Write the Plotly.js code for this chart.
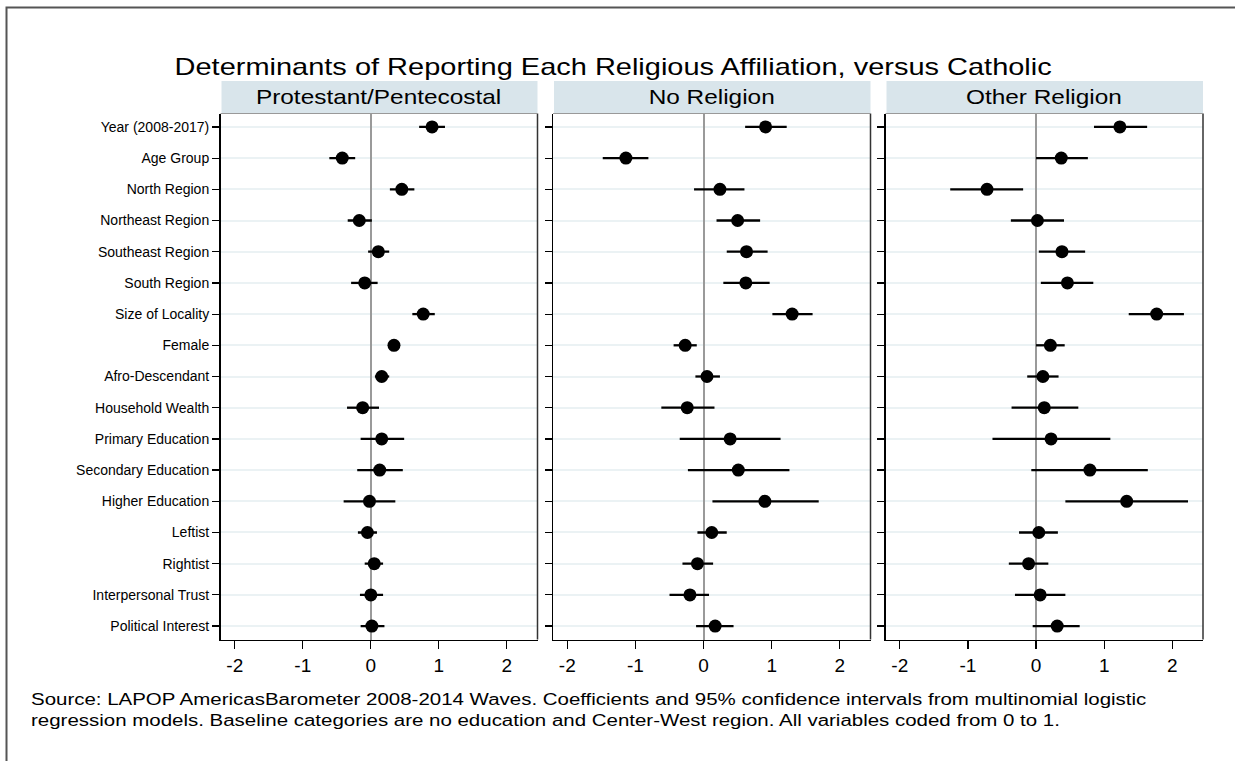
<!DOCTYPE html>
<html>
<head>
<meta charset="utf-8">
<script src="https://cdn.plot.ly/plotly-3.0.1.min.js"></script>
<style>html,body{margin:0;padding:0;background:#fff;}#chart{width:1235px;height:761px;}</style>
</head>
<body>
<div id="chart"></div>
<script>
// ---- data ----
var variables = ["Year (2008-2017)", "Age Group", "North Region", "Northeast Region", "Southeast Region",
  "South Region", "Size of Locality", "Female", "Afro-Descendant", "Household Wealth",
  "Primary Education", "Secondary Education", "Higher Education", "Leftist", "Rightist",
  "Interpersonal Trust", "Political Interest"];

var panelTitles = ["Protestant/Pentecostal", "No Religion", "Other Religion"];

var protestantCoef = [0.90, -0.42, 0.455, -0.17, 0.11, -0.09, 0.77, 0.34, 0.16, -0.12, 0.16, 0.13, -0.02, -0.05, 0.05, 0.00, 0.015];
var protestantLow  = [0.71, -0.61, 0.28, -0.34, -0.04, -0.29, 0.61, 0.26, 0.06, -0.35, -0.15, -0.20, -0.40, -0.19, -0.09, -0.16, -0.15];
var protestantHigh = [1.09, -0.23, 0.64, 0.015, 0.27, 0.10, 0.94, 0.42, 0.27, 0.12, 0.49, 0.47, 0.36, 0.09, 0.18, 0.18, 0.20];

var noReligionCoef = [0.91, -1.14, 0.24, 0.50, 0.63, 0.62, 1.30, -0.27, 0.05, -0.24, 0.39, 0.51, 0.90, 0.12, -0.09, -0.20, 0.17];
var noReligionLow  = [0.61, -1.48, -0.14, 0.19, 0.34, 0.29, 1.01, -0.44, -0.12, -0.62, -0.35, -0.23, 0.13, -0.09, -0.31, -0.50, -0.11];
var noReligionHigh = [1.22, -0.81, 0.60, 0.83, 0.94, 0.97, 1.60, -0.10, 0.24, 0.16, 1.13, 1.26, 1.69, 0.34, 0.14, 0.08, 0.44];

var otherCoef = [1.23, 0.37, -0.72, 0.02, 0.38, 0.46, 1.77, 0.21, 0.10, 0.12, 0.22, 0.79, 1.33, 0.04, -0.11, 0.06, 0.31];
var otherLow  = [0.85, 0.00, -1.26, -0.37, 0.04, 0.07, 1.36, 0.00, -0.13, -0.36, -0.64, -0.07, 0.43, -0.25, -0.40, -0.31, -0.05];
var otherHigh = [1.63, 0.76, -0.19, 0.41, 0.72, 0.84, 2.17, 0.42, 0.33, 0.62, 1.09, 1.64, 2.23, 0.32, 0.18, 0.43, 0.64];

var xTickVals = [-2, -1, 0, 1, 2];
var xTickText = ["-2", "-1", "0", "1", "2"];

var chartTitle = "Determinants of Reporting Each Religious Affiliation, versus Catholic";
var noteText = "Source: LAPOP AmericasBarometer 2008-2014 Waves. Coefficients and 95% confidence intervals from multinomial logistic<br>regression models. Baseline categories are no education and Center-West region. All variables coded from 0 to 1.";

// ---- build ----
var W = 1235, H = 761;
function px(x) { return x / W; }
function py(y) { return 1 - y / H; }

var FONT = "Liberation Sans, Arial, Helvetica, sans-serif";
var rowPos = variables.map(function (_, i) { return i + 1; });

var panels = [
  {coef: protestantCoef, lo: protestantLow, hi: protestantHigh, x0: 220.5, x1: 537.5},
  {coef: noReligionCoef, lo: noReligionLow, hi: noReligionHigh, x0: 553, x1: 870.5},
  {coef: otherCoef, lo: otherLow, hi: otherHigh, x0: 885.5, x1: 1203}
];

var plotTop = 113.5, plotBottom = 639.5, stripTop = 81;

var traces = [];
var layout = {
  width: W, height: H,
  margin: {l: 0, r: 0, t: 0, b: 0},
  paper_bgcolor: "#ffffff",
  plot_bgcolor: "#ffffff",
  showlegend: false,
  font: {family: FONT, color: "#000000"},
  shapes: [],
  annotations: []
};

// horizontal stretch factors applied to each annotation's text (same order as annotations)
var stretch = [];

panels.forEach(function (p, k) {
  var sfx = k === 0 ? "" : String(k + 1);
  traces.push({
    type: "scatter", mode: "markers",
    x: p.coef, y: rowPos,
    xaxis: "x" + sfx, yaxis: "y" + sfx,
    marker: {color: "#000000", size: 13},
    error_x: {
      type: "data", symmetric: false,
      array: p.hi.map(function (h, i) { return h - p.coef[i]; }),
      arrayminus: p.coef.map(function (c, i) { return c - p.lo[i]; }),
      color: "#000000", thickness: 2.3, width: 0
    },
    hoverinfo: "skip"
  });
  layout["xaxis" + sfx] = {
    domain: [px(p.x0), px(p.x1)],
    anchor: "y" + sfx,
    range: [-2.21, 2.45],
    tickvals: xTickVals, ticktext: xTickText,
    ticks: "outside", ticklen: 8, tickwidth: 1.2, tickcolor: "#000",
    tickfont: {size: 19, family: FONT, color: "#000"},
    showgrid: false,
    zeroline: true, zerolinecolor: "#9a9a9a", zerolinewidth: 2,
    showline: true, linecolor: "#000", linewidth: 1.5, mirror: false,
    fixedrange: true
  };
  layout["yaxis" + sfx] = {
    domain: [py(plotBottom), py(plotTop)],
    anchor: "x" + sfx,
    range: [17.43, 0.57],
    tickvals: rowPos,
    ticktext: k === 0 ? variables : variables.map(function () { return ""; }),
    showticklabels: k === 0,
    ticks: "outside", ticklen: 7, tickwidth: 1.2, tickcolor: "#000",
    tickfont: {size: 14, family: FONT, color: "#000"},
    showgrid: true, gridcolor: "#ebf2f4", gridwidth: 2,
    zeroline: false,
    showline: true, linecolor: "#000", linewidth: 1.5, mirror: false,
    fixedrange: true
  };
  layout.shapes.push({type: "line", xref: "paper", yref: "paper",
    x0: px(p.x1), x1: px(p.x1), y0: py(plotBottom), y1: py(plotTop),
    line: {color: "#333", width: 1.5}});
  layout.shapes.push({type: "rect", xref: "paper", yref: "paper",
    x0: px(p.x0 + 1), x1: px(p.x1), y0: py(plotTop), y1: py(stripTop),
    fillcolor: "#d9e5eb", line: {width: 0}, layer: "below"});
  layout.shapes.push({type: "line", xref: "paper", yref: "paper",
    x0: px(p.x0), x1: px(p.x1), y0: py(plotTop), y1: py(plotTop),
    line: {color: "#999", width: 1.2}});
  layout.annotations.push({
    xref: "paper", yref: "paper",
    x: px((p.x0 + p.x1) / 2), y: py((stripTop + plotTop) / 2),
    xanchor: "center", yanchor: "middle",
    text: panelTitles[k], showarrow: false,
    font: {size: 20, family: FONT, color: "#000"}
  });
  stretch.push({s: 1.22, origin: "center"});
});

// outer frame
layout.shapes.push({type: "rect", xref: "paper", yref: "paper",
  x0: px(6.5), x1: px(1250), y0: py(775), y1: py(7.5),
  line: {color: "#555", width: 2}, fillcolor: "rgba(0,0,0,0)"});

// title
layout.annotations.push({
  xref: "paper", yref: "paper", x: px(613), y: py(67), xanchor: "center", yanchor: "middle",
  text: chartTitle, showarrow: false, font: {size: 23, family: FONT, color: "#000"}
});
stretch.push({s: 1.26, origin: "center"});
// note
layout.annotations.push({
  xref: "paper", yref: "paper", x: px(29), y: py(689), xanchor: "left", yanchor: "top",
  align: "left", text: noteText, showarrow: false,
  font: {size: 16, family: FONT, color: "#000"}
});
stretch.push({s: 1.28, origin: "left center"});

Plotly.newPlot("chart", traces, layout, {displayModeBar: false, staticPlot: true}).then(function (gd) {
  var groups = gd.querySelectorAll("g.annotation");
  groups.forEach(function (g, i) {
    var t = g.querySelector("text.annotation-text");
    if (!t || !stretch[i]) return;
    t.style.transformBox = "fill-box";
    t.style.transformOrigin = stretch[i].origin;
    t.style.transform = "scaleX(" + stretch[i].s + ")";
  });
});
</script>
</body>
</html>
